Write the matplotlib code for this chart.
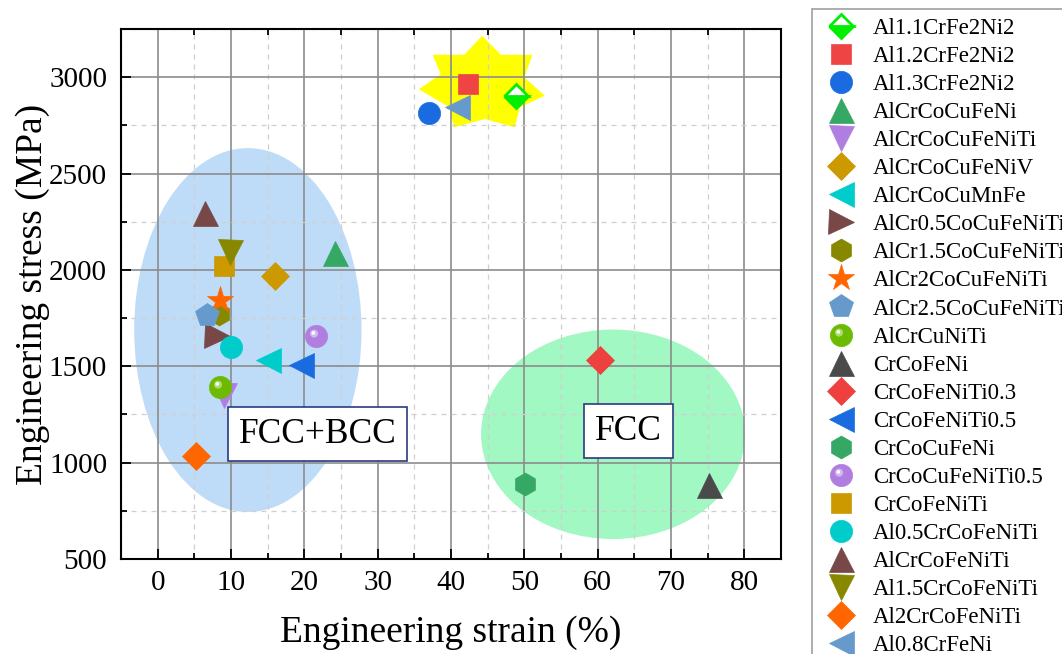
import numpy as np
import matplotlib
matplotlib.use("Agg")
import matplotlib.pyplot as plt
from matplotlib.path import Path
from matplotlib.patches import Ellipse, Polygon
from matplotlib.legend_handler import HandlerTuple
from matplotlib.ticker import MultipleLocator

plt.rcParams['font.family'] = ['Liberation Serif', 'DejaVu Serif']

# ---- data -------------------------------------------------------------
alloys = ["Al1.1CrFe2Ni2", "Al1.2CrFe2Ni2", "Al1.3CrFe2Ni2", "AlCrCoCuFeNi",
          "AlCrCoCuFeNiTi", "AlCrCoCuFeNiV", "AlCrCoCuMnFe", "AlCr0.5CoCuFeNiTi",
          "AlCr1.5CoCuFeNiTi", "AlCr2CoCuFeNiTi", "AlCr2.5CoCuFeNiTi", "AlCrCuNiTi",
          "CrCoFeNi", "CrCoFeNiTi0.3", "CrCoFeNiTi0.5", "CrCoCuFeNi",
          "CrCoCuFeNiTi0.5", "CrCoFeNiTi", "Al0.5CrCoFeNiTi", "AlCrCoFeNiTi",
          "Al1.5CrCoFeNiTi", "Al2CrCoFeNiTi", "Al0.8CrFeNi"]
strain = [48.8, 42.3, 37.0, 24.2, 9.0, 16.0, 15.0, 8.1,
          8.3, 8.5, 6.7, 8.5,
          75.2, 60.3, 19.6, 50.1,
          21.6, 9.0, 10.0, 6.4,
          9.9, 5.2, 40.8]
stress = [2900, 2965, 2815, 2090, 1350, 1970, 1535, 1655,
          1770, 1845, 1765, 1390,
          885, 1535, 1505, 890,
          1655, 2020, 1600, 2295,
          2095, 1035, 2845]
markers = ["D", "s", "o", "^", "v", "D", "<", ">",
           "h", "*", "p", "sphere",
           "^", "D", "<", "h",
           "sphere", "s", "o", "^",
           "v", "D", "<"]
colors = ["#00ee00", "#ef4444", "#1a6be0", "#36a865", "#b07ee0", "#cc9900", "#00cccc", "#784848",
          "#888800", "#ff6600", "#6699cc", "#6cbb00",
          "#4a4a4a", "#ef4040", "#1a6be0", "#36a865",
          "#b07ee0", "#cc9900", "#00cccc", "#784848",
          "#888800", "#ff6600", "#6699cc"]

# phase regions: (center strain, center stress, width, height)
bcc_region = (12.3, 1688, 31.0, 1888)
fcc_region = (62.1, 1147, 36.0, 1087)
# burst outline around the high-strength Al-Cr-Fe-Ni group
burst_strain = [44.25, 46.8, 51.1, 50.0, 52.8, 49.4, 48.7, 44.6, 40.4, 39.8, 35.6, 38.6, 37.5, 41.8]
burst_stress = [3215, 3116, 3116, 2999, 2904, 2844, 2740, 2783, 2740, 2844, 2937, 3015, 3116, 3116]

sizes = {"D": 13.8, "s": 13.7, "o": 16, "sphere": 16, "^": 18, "v": 18, "<": 18, ">": 18,
         "h": 16.5, "p": 18, "*": 19.5}

# highlight glint for the sphere markers (padded so scaling matches the circle)
def glint_path(r, cx, cy):
    circ = Path.unit_circle()
    verts = circ.vertices * r + np.array([cx, cy])
    verts = np.vstack([[[-1, -1]], [[1, 1]], verts])
    codes = np.concatenate([[Path.MOVETO, Path.MOVETO], circ.codes])
    return Path(verts, codes)

glint_outer = glint_path(0.36, -0.22, 0.26)
glint_inner = glint_path(0.17, -0.28, 0.32)

# ---- figure -----------------------------------------------------------
fig = plt.figure(figsize=(10.62, 6.54), dpi=100)
ax = fig.add_axes([121 / 1062, 1 - 559 / 654, (781 - 121) / 1062, (559 - 29) / 654])

ax.set_xlim(-5, 85)
ax.set_ylim(500, 3250)

ax.add_patch(Ellipse(bcc_region[:2], bcc_region[2], bcc_region[3],
                     facecolor="#bedcf8", edgecolor="none", zorder=0.3))
ax.add_patch(Ellipse(fcc_region[:2], fcc_region[2], fcc_region[3],
                     facecolor="#a2f8c2", edgecolor="none", zorder=0.3))
ax.add_patch(Polygon(np.column_stack([burst_strain, burst_stress]), closed=True,
                     facecolor="#ffff00", edgecolor="none", zorder=0.3))

handles = []
for name, x, y, m, c in zip(alloys, strain, stress, markers, colors):
    ms = sizes[m]
    if m == "sphere":
        h1, = ax.plot([x], [y], linestyle="none", marker="o", ms=ms,
                      mfc=c, mec=c, mew=0.5, zorder=3)
        h2, = ax.plot([x], [y], linestyle="none", marker=glint_outer, ms=ms,
                      mfc="white", mec="none", alpha=0.45, zorder=3)
        h3, = ax.plot([x], [y], linestyle="none", marker=glint_inner, ms=ms,
                      mfc="white", mec="none", alpha=0.95, zorder=3)
        handles.append((h1, h2, h3))
    elif name == "Al1.1CrFe2Ni2":
        h, = ax.plot([x], [y], linestyle="none", marker=m, ms=ms - 1.5,
                     fillstyle="bottom", mfc=c, mfcalt="white", mec=c, mew=2.0, zorder=3)
        handles.append(h)
    else:
        h, = ax.plot([x], [y], linestyle="none", marker=m, ms=ms,
                     mfc=c, mec=c, mew=0.5, zorder=3)
        handles.append(h)

# phase labels
box = dict(boxstyle="square,pad=0.3", facecolor="white", edgecolor="#2b3a80", linewidth=1.2)
ax.text(21.8, 1147, "FCC+BCC", fontsize=25.5, ha="center", va="center", bbox=box, zorder=5)
ax.text(64.2, 1163, "FCC", fontsize=25.5, ha="center", va="center", bbox=box, zorder=5)

# grid and ticks
ax.xaxis.set_major_locator(MultipleLocator(10))
ax.xaxis.set_minor_locator(MultipleLocator(5))
ax.yaxis.set_major_locator(MultipleLocator(500))
ax.yaxis.set_minor_locator(MultipleLocator(250))
ax.set_axisbelow(True)
ax.grid(which="major", color="#8c8c8c", linewidth=1.2, linestyle="-")
ax.grid(which="minor", color="#cfcfcf", linewidth=0.9, linestyle=(0, (4, 4)))
ax.tick_params(which="both", direction="in", top=False, right=False,
               labelsize=21, width=1.3, color="black")
ax.tick_params(which="major", length=7)
ax.tick_params(which="minor", length=4)
ax.tick_params(axis="x", which="minor", top=True)
ax.tick_params(axis="x", pad=8)
ax.tick_params(axis="y", pad=10)
for s in ax.spines.values():
    s.set_linewidth(1.5)
    s.set_color("black")

ax.set_xlabel("Engineering strain (%)", fontsize=27, labelpad=14)
ax.set_ylabel("Engineering stress (MPa)", fontsize=27, labelpad=-1)

leg = fig.legend(handles, alloys, loc="upper left", bbox_to_anchor=(812 / 1062, 1 - 9 / 654),
                 fontsize=16.5, frameon=True, fancybox=False, borderpad=0.4,
                 handlelength=1.73, handletextpad=0.53, labelspacing=0.305, numpoints=1,
                 handler_map={tuple: HandlerTuple(ndivide=1)}, borderaxespad=0)
leg.get_frame().set_edgecolor("#888888")
leg.get_frame().set_linewidth(1.2)

fig.savefig("out.png", dpi=100)
